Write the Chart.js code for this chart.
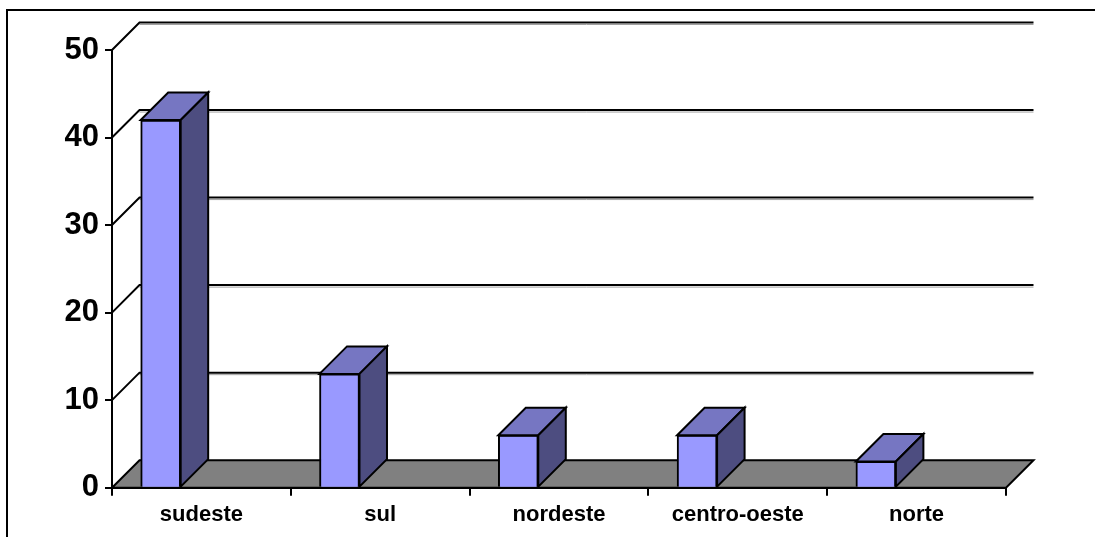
<!DOCTYPE html>
<html lang="pt">
<head>
<meta charset="utf-8">
<title>Distribuição por região</title>
<script src="https://cdn.jsdelivr.net/npm/chart.js@4/dist/chart.umd.min.js"></script>
<style>
  html, body { margin: 0; padding: 0; background: #fff; }
  #wrap { position: relative; width: 1095px; height: 537px; }
</style>
</head>
<body>
<div id="wrap"><canvas id="chart" width="1095" height="537"></canvas></div>
<script>
// Regions and their values
const regions = ['sudeste', 'sul', 'nordeste', 'centro-oeste', 'norte'];
const values = [42, 13, 6, 6, 3];

// Value axis ticks
const yTicks = [0, 10, 20, 30, 40, 50];

// Colours of the 3D bars and the floor
const colors = {
  front: '#9999FF',
  top: '#7676C2',
  side: '#4D4D80',
  floor: '#808080',
  line: '#000000'
};

const fontFamily = '"Liberation Sans", Arial, Helvetica, sans-serif';

// Depth of the 3D projection (pixels to the right / upwards)
const depthX = 27.5;
const depthY = 27.5;

// Front face of each bar sits this fraction of a category left of centre
const barShift = 0.2277;

// Draws the frame, back wall grid lines and the floor behind the bars,
// then the top and side faces of each bar in front of them
const threeDPlugin = {
  id: 'threeD',
  beforeDraw(chart) {
    const ctx = chart.ctx;
    ctx.save();
    ctx.strokeStyle = colors.line;
    ctx.lineWidth = 2;
    ctx.beginPath();
    ctx.moveTo(7, chart.height + 5);
    ctx.lineTo(7, 10);
    ctx.lineTo(chart.width + 5, 10);
    ctx.stroke();
    ctx.restore();
  },
  beforeDatasetsDraw(chart) {
    const ctx = chart.ctx;
    const { left, right } = chart.chartArea;
    const ys = chart.scales.y;
    const y0 = ys.getPixelForValue(0);

    ctx.save();
    ctx.lineJoin = 'miter';

    // floor
    ctx.beginPath();
    ctx.moveTo(left, y0);
    ctx.lineTo(left + depthX, y0 - depthY);
    ctx.lineTo(right + depthX, y0 - depthY);
    ctx.lineTo(right, y0);
    ctx.closePath();
    ctx.fillStyle = colors.floor;
    ctx.fill();
    ctx.strokeStyle = colors.line;
    ctx.lineWidth = 2;
    ctx.stroke();

    // back wall grid lines with their diagonal from the value axis
    yTicks.forEach(v => {
      if (v === 0) return;
      const y = ys.getPixelForValue(v);
      ctx.strokeStyle = '#a0a0a0';
      ctx.lineWidth = 1;
      ctx.beginPath();
      ctx.moveTo(left + depthX, y - depthY + 2);
      ctx.lineTo(right + depthX, y - depthY + 2);
      ctx.stroke();

      ctx.strokeStyle = colors.line;
      ctx.lineWidth = 2;
      ctx.beginPath();
      ctx.moveTo(left, y);
      ctx.lineTo(left + depthX, y - depthY);
      ctx.lineTo(right + depthX, y - depthY);
      ctx.stroke();
    });
    ctx.restore();
  },
  afterDatasetsDraw(chart) {
    const ctx = chart.ctx;
    const meta = chart.getDatasetMeta(0);
    ctx.save();
    ctx.strokeStyle = colors.line;
    ctx.lineWidth = 2;
    ctx.lineJoin = 'miter';
    meta.data.forEach(bar => {
      const { x, y, base, width } = bar.getProps(['x', 'y', 'base', 'width'], true);
      const l = x - width / 2;
      const r = x + width / 2;

      // top face
      ctx.beginPath();
      ctx.moveTo(l, y);
      ctx.lineTo(l + depthX, y - depthY);
      ctx.lineTo(r + depthX, y - depthY);
      ctx.lineTo(r, y);
      ctx.closePath();
      ctx.fillStyle = colors.top;
      ctx.fill();
      ctx.stroke();

      // side face
      ctx.beginPath();
      ctx.moveTo(r, y);
      ctx.lineTo(r + depthX, y - depthY);
      ctx.lineTo(r + depthX, base - depthY);
      ctx.lineTo(r, base);
      ctx.closePath();
      ctx.fillStyle = colors.side;
      ctx.fill();
      ctx.stroke();
    });
    ctx.restore();
  }
};

new Chart(document.getElementById('chart'), {
  type: 'bar',
  data: {
    labels: regions,
    datasets: [{
      data: values.map((v, i) => ({ x: i, y: v })),
      xAxisID: 'xb',
      backgroundColor: colors.front,
      borderColor: colors.line,
      borderWidth: 2,
      barThickness: 40
    }]
  },
  options: {
    responsive: false,
    animation: false,
    events: [],
    layout: { padding: { left: 0, right: 89, top: 50, bottom: 0 } },
    plugins: {
      legend: { display: false },
      tooltip: { enabled: false }
    },
    scales: {
      x: {
        type: 'category',
        labels: regions,
        offset: true,
        afterFit(scale) { scale.height = 49.3; },
        grid: {
          offset: true,
          drawOnChartArea: false,
          tickLength: 8,
          color: colors.line,
          lineWidth: 2
        },
        border: { display: true, color: colors.line, width: 2 },
        ticks: {
          color: '#000',
          padding: 6,
          maxRotation: 0,
          font: { family: fontFamily, size: 22, weight: 'bold' }
        }
      },
      xb: {
        type: 'linear',
        display: false,
        offset: false,
        bounds: 'data',
        min: -0.5 + barShift,
        max: regions.length - 0.5 + barShift
      },
      y: {
        min: 0,
        max: 50,
        afterFit(scale) { scale.width = 112; },
        afterBuildTicks(scale) { scale.ticks = yTicks.map(v => ({ value: v })); },
        grid: {
          drawOnChartArea: false,
          tickLength: 7,
          color: colors.line,
          lineWidth: 2
        },
        border: { display: true, color: colors.line, width: 2 },
        ticks: {
          color: '#000',
          padding: 6,
          font: { family: fontFamily, size: 31, weight: 'bold' }
        }
      }
    }
  },
  plugins: [threeDPlugin]
});
</script>
</body>
</html>
